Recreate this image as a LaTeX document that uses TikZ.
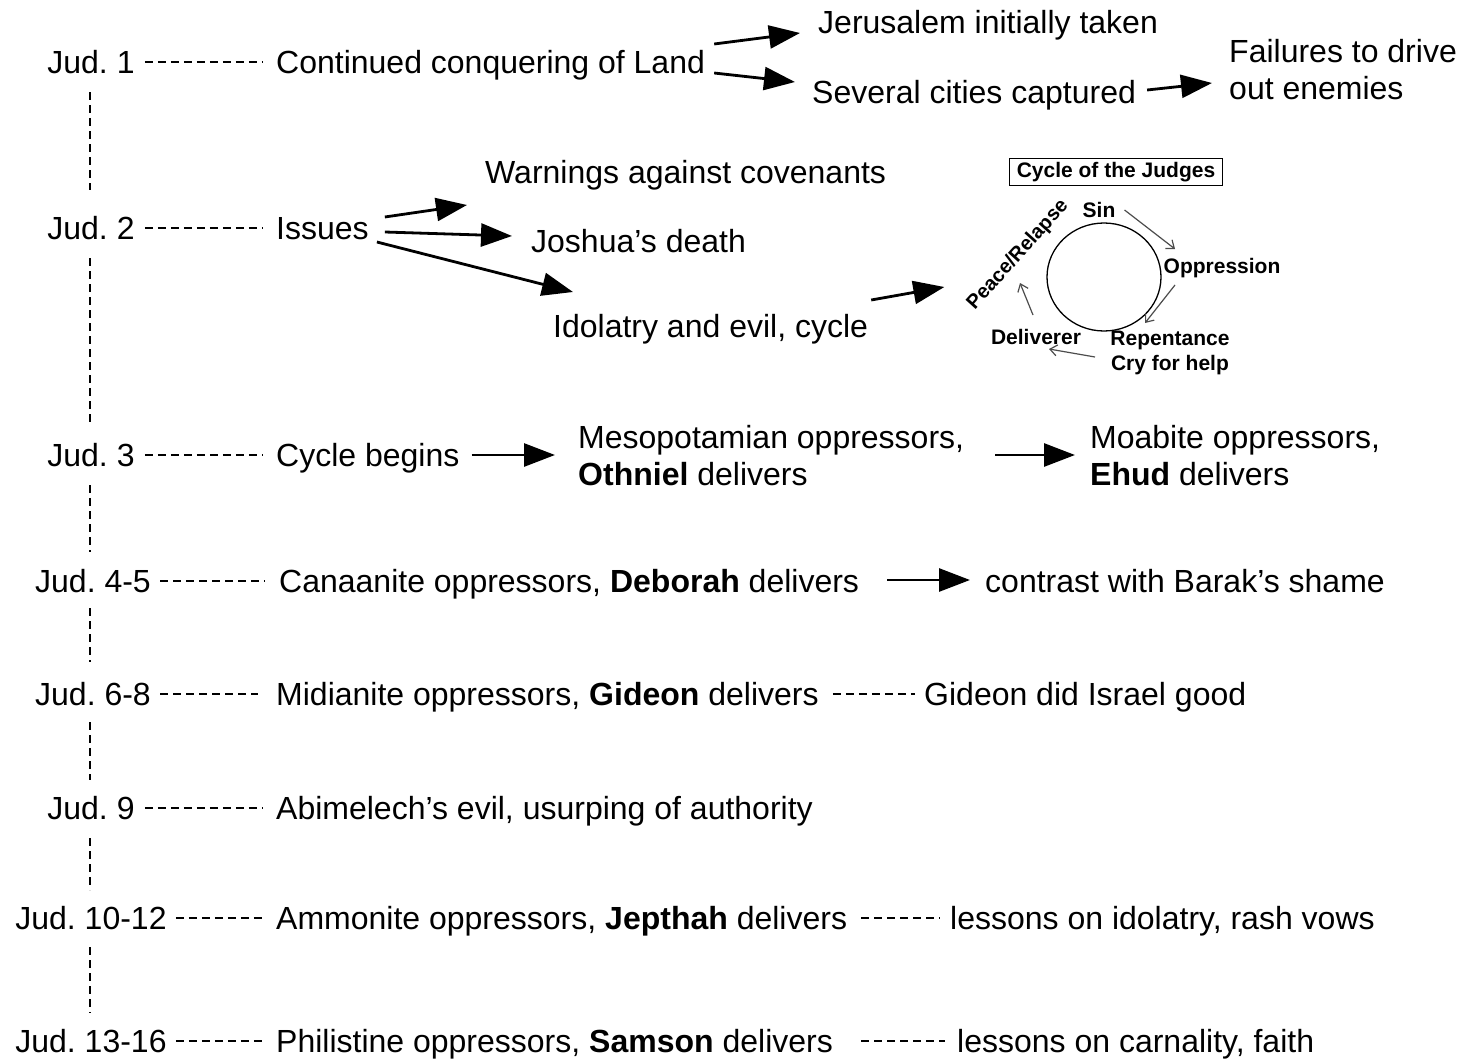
\documentclass[tikz,border=0pt]{standalone}
\usepackage{fontspec}
\setmainfont{Liberation Sans}
\usetikzlibrary{arrows.meta,shapes.geometric}
\frenchspacing
\tikzset{
  txt/.style={inner sep=0pt, anchor=base west, font=\fontsize{32}{37}\selectfont},
  jud/.style={inner sep=0pt, anchor=base, font=\fontsize{32}{37}\selectfont},
  ml/.style={inner sep=0pt, anchor=west, align=left, font=\fontsize{32}{37}\selectfont},
  dsh/.style={line width=1.7pt, dash pattern=on 8pt off 5pt},
  big/.style={line width=2.8pt, -{Triangle[length=31pt,width=23pt]}},
  ins/.style={inner sep=0pt, font=\fontsize{21}{24}\selectfont\bfseries},
  cyc/.style={line width=1.2pt, draw=black!70, -{Straight Barb[length=7pt,width=11pt]}},
}
\begin{document}
\begin{tikzpicture}[x=1pt,y=-1pt]
\useasboundingbox (0,0) rectangle (1460,1060);
% timeline labels
\node[jud] (j1) at (91,73) {Jud. 1};
\node[jud] (j2) at (91,239) {Jud. 2};
\node[jud] (j3) at (91,466) {Jud. 3};
\node[jud] (j4) at (93,592) {Jud. 4-5};
\node[jud] (j5) at (93,705) {Jud. 6-8};
\node[jud] (j6) at (91,819) {Jud. 9};
\node[jud] (j7) at (91,929) {Jud. 10-12};
\node[jud] (j8) at (91,1052) {Jud. 13-16};
% main texts
\node[txt] (c1) at (276,73) {Continued conquering of Land};
\node[txt] (c2) at (276,239) {Issues};
\node[txt] (c3) at (276,466) {Cycle begins};
\node[txt] (c4) at (279,592) {Canaanite oppressors, \textbf{Deborah} delivers};
\node[txt] (c5) at (276,705) {Midianite oppressors, \textbf{Gideon} delivers};
\node[txt] (c6) at (276,819) {Abimelech’s evil, usurping of authority};
\node[txt] (c7) at (276,929) {Ammonite oppressors, \textbf{Jepthah} delivers};
\node[txt] (c8) at (276,1052) {Philistine oppressors, \textbf{Samson} delivers};
% secondary texts
\node[txt] (jer) at (818,33) {Jerusalem initially taken};
\node[txt] (sev) at (812,103) {Several cities captured};
\node[ml] (fail) at (1229,70) {Failures to drive\\out enemies};
\node[txt] (warn) at (485,183) {Warnings against covenants};
\node[txt] (josh) at (531,252) {Joshua’s death};
\node[txt] (idol) at (553,337) {Idolatry and evil, cycle};
\node[ml] (meso) at (578,456) {Mesopotamian oppressors,\\\textbf{Othniel} delivers};
\node[ml] (moab) at (1090,456) {Moabite oppressors,\\\textbf{Ehud} delivers};
\node[txt] (bar) at (985,592) {contrast with Barak’s shame};
\node[txt] (gid) at (924,705) {Gideon did Israel good};
\node[txt] (les7) at (950,929) {lessons on idolatry, rash vows};
\node[txt] (les8) at (957,1052) {lessons on carnality, faith};
% cycle inset
\node[ins, draw, line width=1.3pt, inner xsep=7pt, inner ysep=4pt] (title) at (1116,172) {Cycle of the Judges};
\node[ellipse, draw, line width=1.3pt, minimum width=114pt, minimum height=108pt, inner sep=0pt] (circ) at (1104,277) {};
\node[ins] (sin) at (1099,210) {Sin};
\node[ins] (opp) at (1222,268) {Oppression};
\node[ins] (rep) at (1170,340) {Repentance};
\node[ins] (cry) at (1170,365) {Cry for help};
\node[ins] (del) at (1036,337) {Deliverer};
\node[ins, font=\fontsize{20}{23}\selectfont\bfseries, rotate=48] (pea) at (1018,255) {Peace/Relapse};
\draw[cyc] ([shift={(9,0)}]sin.east) -- ([shift={(-47,-19)}]opp.center);
\draw[cyc] ([shift={(-47,17)}]opp.center) -- ([shift={(-25,-17)}]rep.center);
\draw[cyc] ([shift={(-75,-8)}]cry.center) -- ([shift={(13,12)}]del.center);
\draw[cyc] ([shift={(-3,-22)}]del.center) -- ([shift={(2,28)}]pea.center);
% vertical timeline
\draw[dsh] ([shift={(-1,19)}]j1.base) -- ([shift={(-1,-49)}]j2.base);
\draw[dsh] ([shift={(-1,19)}]j2.base) -- ([shift={(-1,-41)}]j3.base);
\draw[dsh] ([shift={(-1,19)}]j3.base) -- ([shift={(-3,-40)}]j4.base);
\draw[dsh] ([shift={(-3,16)}]j4.base) -- ([shift={(-3,-43)}]j5.base);
\draw[dsh] ([shift={(-3,17)}]j5.base) -- ([shift={(-1,-39)}]j6.base);
\draw[dsh] ([shift={(-1,19)}]j6.base) -- ([shift={(-1,-39)}]j7.base);
\draw[dsh] ([shift={(-1,18)}]j7.base) -- ([shift={(-1,-39)}]j8.base);
% horizontal dashes
\draw[dsh] ([shift={(10,-11)}]j1.base east) -- ([shift={(-14,-11)}]c1.base west);
\draw[dsh] ([shift={(10,-11)}]j2.base east) -- ([shift={(-14,-11)}]c2.base west);
\draw[dsh] ([shift={(10,-11)}]j3.base east) -- ([shift={(-14,-11)}]c3.base west);
\draw[dsh] ([shift={(9,-11)}]j4.base east) -- ([shift={(-14,-11)}]c4.base west);
\draw[dsh] ([shift={(9,-11)}]j5.base east) -- ([shift={(-18,-11)}]c5.base west);
\draw[dsh] ([shift={(10,-11)}]j6.base east) -- ([shift={(-14,-11)}]c6.base west);
\draw[dsh] ([shift={(9,-11)}]j7.base east) -- ([shift={(-14,-11)}]c7.base west);
\draw[dsh] ([shift={(9,-11)}]j8.base east) -- ([shift={(-14,-11)}]c8.base west);
\draw[dsh] ([shift={(14,-11)}]c5.base east) -- ([shift={(-9,-11)}]gid.base west);
\draw[dsh] ([shift={(14,-11)}]c7.base east) -- ([shift={(-10,-11)}]les7.base west);
\draw[dsh] ([shift={(28,-11)}]c8.base east) -- ([shift={(-12,-11)}]les8.base west);
% arrows
\draw[big] ([shift={(9,-29)}]c1.base east) -- ([shift={(-18,0)}]jer.base west);
\draw[big] ([shift={(9,0)}]c1.base east) -- ([shift={(-17,-21)}]sev.base west);
\draw[big] ([shift={(11,-13)}]sev.base east) -- ([shift={(-17,13)}]fail.west);
\draw[big] ([shift={(16,-22)}]c2.base east) -- ([shift={(-18,22)}]warn.base west);
\draw[big] ([shift={(16,-7)}]c2.base east) -- ([shift={(-19,-16)}]josh.base west);
\draw[big] ([shift={(8,3)}]c2.base east) -- ([shift={(20,-45)}]idol.base west);
\draw[big] ([shift={(3,-37)}]idol.base east) -- ([shift={(-102,10)}]circ.west);
\draw[big] ([shift={(12,-11)}]c3.base east) -- ([shift={(-23,-1)}]meso.west);
\draw[big] ([shift={(31,-1)}]meso.east) -- ([shift={(-15,-1)}]moab.west);
\draw[big] ([shift={(28,-12)}]c4.base east) -- ([shift={(-15,-12)}]bar.base west);
\end{tikzpicture}
\end{document}
